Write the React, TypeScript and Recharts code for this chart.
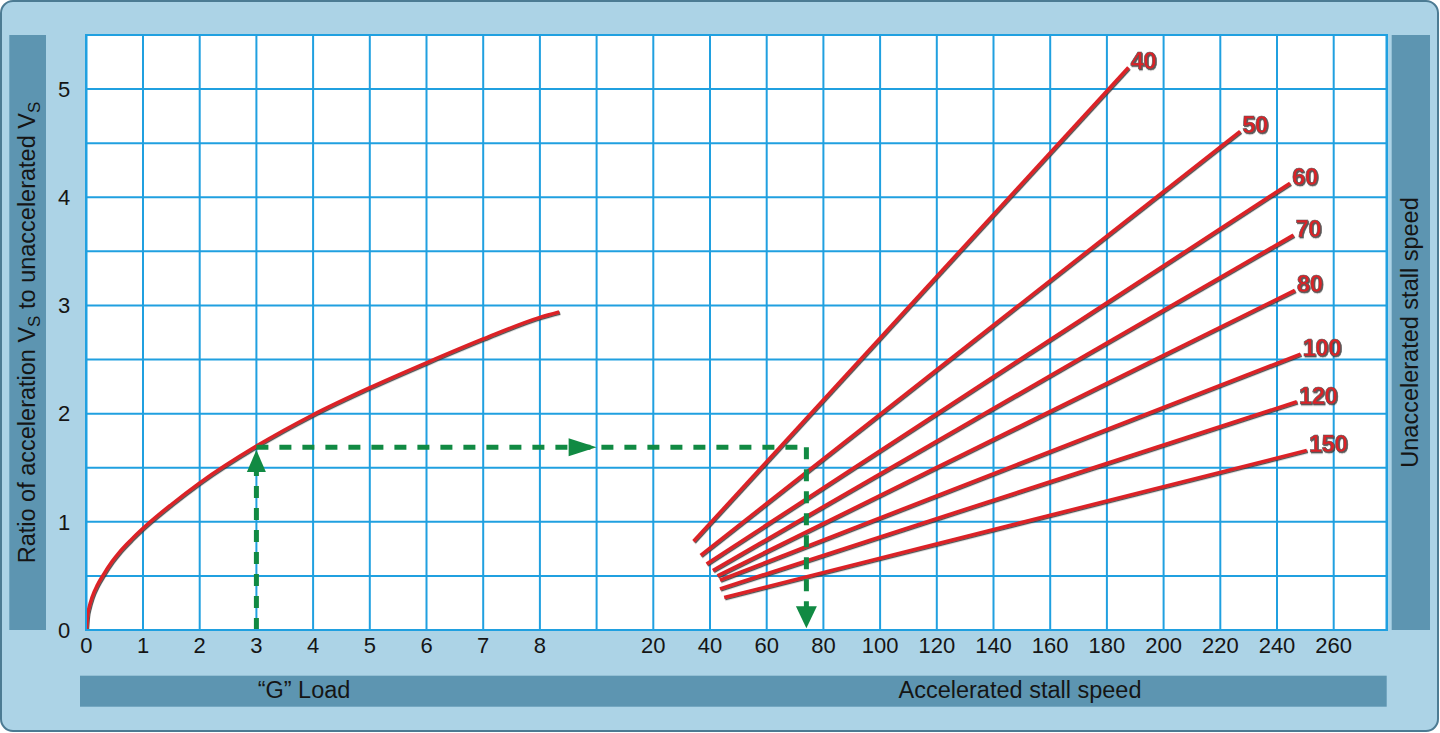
import React from 'react';
import { LineChart, Line, XAxis, YAxis, CartesianGrid, ReferenceDot } from 'recharts';

// ---------------- data ----------------
// "G" load curve
const gLoadValues = [0, 0.02, 0.05, 0.1, 0.2, 0.3, 0.45, 0.6, 0.8, 1, 1.5, 2, 3, 4, 5, 6, 7, 8, 8.34];
const gRatioValues = [0, 0.13, 0.21, 0.3, 0.42, 0.51, 0.63, 0.73, 0.84, 0.94, 1.16, 1.36, 1.7, 1.99, 2.24, 2.47, 2.69, 2.89, 2.94];

// Unaccelerated stall speed lines (accelerated stall speed vs ratio)
const stallSpeeds = [40, 50, 60, 70, 80, 100, 120, 150];
const lineStartSpeed = [34.2, 36.7, 38.8, 41.0, 42.6, 43.5, 43.5, 45.0];
const lineStartRatio = [0.82, 0.69, 0.61, 0.55, 0.5, 0.46, 0.38, 0.3];
const lineEndSpeed = [187.6, 227.0, 244.6, 245.8, 246.3, 248.3, 247.0, 250.5];
const lineEndRatio = [5.2, 4.61, 4.13, 3.65, 3.14, 2.55, 2.11, 1.66];

// Ticks
const gTicks = [0, 1, 2, 3, 4, 5, 6, 7, 8, 9];
const speedTicks = [20, 40, 60, 80, 100, 120, 140, 160, 180, 200, 220, 240, 260];
const ratioTicks = [0, 0.5, 1, 1.5, 2, 2.5, 3, 3.5, 4, 4.5, 5, 5.5];

// Worked example (green dashed arrows)
const exampleLoad = 3;
const exampleRatio = 1.69;
const exampleSpeed = 74;
const upArrowBase = 1.46;
const upArrowTip = 1.665;
const rightArrowTipLoad = 9;
const downArrowBase = 0.21;
const downArrowTip = 0.016;

// ---------------- layout / style ----------------
const W = 1440;
const H = 733;
const PLOT_LEFT = 86.3;
const PLOT_TOP = 35;
const PLOT_RIGHT = 1386.7;
const PLOT_BOTTOM = 630;
const COL_PX = 56.7;
const AXIS_H = 0.01;
const G_MAX = (PLOT_RIGHT - PLOT_LEFT) / COL_PX;
// both scales share one grid: column 10 = 20 kt, 20 kt per column
const speedAtCol = (c: number) => 20 + (c - 10) * 20;
const colAtSpeed = (s: number) => 10 + (s - 20) / 20;
const S_DOMAIN = [speedAtCol(0), speedAtCol(G_MAX)];

const RED = '#dc2128';
const GREEN = '#118a43';
const GRID = '#20a0e0';
const BG = '#acd3e6';
const BAR = '#5d95b1';
const FONT = '"Liberation Sans", Arial, Helvetica, sans-serif';
const TEXT = '#151515';

const curveData = gLoadValues.map((g, i) => ({ g, r: gRatioValues[i] }));
const speedLines = stallSpeeds.map((v, i) => ({
  label: String(v),
  data: [
    { s: lineStartSpeed[i], r: lineStartRatio[i] },
    { s: lineEndSpeed[i], r: lineEndRatio[i] },
  ],
}));
const upData = [
  { g: exampleLoad, r: 0 },
  { g: exampleLoad, r: upArrowBase },
];
const acrossData = [
  { g: exampleLoad, r: exampleRatio },
  { g: colAtSpeed(exampleSpeed), r: exampleRatio },
];
const downData = [
  { s: exampleSpeed, r: exampleRatio },
  { s: exampleSpeed, r: downArrowBase },
];

const tickStyle = { fill: TEXT, fontSize: 22, fontFamily: FONT };

const endLabel = (label: string) => (props: any) => {
  const { cx, cy, index } = props;
  if (index !== 1 || cx == null) return <g key={`e${index}`} />;
  return (
    <text
      key={`e${index}`}
      x={cx + 2}
      y={cy + 2}
      fill={RED}
      fontSize={24}
      fontWeight="bold"
      fontFamily={FONT}
      letterSpacing={-0.5}
      stroke="#5a5a5a"
      strokeWidth={0.6}
      filter="url(#redShadow)"
    >
      {label}
    </text>
  );
};

const UpHead = (p: any) => (
  <polygon points={`${p.cx},${p.cy} ${p.cx - 9.5},${p.cy + 22} ${p.cx + 9.5},${p.cy + 22}`} fill={GREEN} />
);
const RightHead = (p: any) => (
  <polygon points={`${p.cx},${p.cy} ${p.cx - 28},${p.cy - 9} ${p.cx - 28},${p.cy + 9}`} fill={GREEN} />
);
const DownHead = (p: any) => (
  <polygon points={`${p.cx},${p.cy} ${p.cx - 10.5},${p.cy - 22} ${p.cx + 10.5},${p.cy - 22}`} fill={GREEN} />
);

export default function App() {
  return (
    <div style={{ position: 'absolute', left: 0, top: 0, width: W, height: H, overflow: 'hidden' }}>
      <style>{`.redline .recharts-line-curve { filter: url(#redShadow); }`}</style>
      <svg width={0} height={0} style={{ position: 'absolute' }}>
        <defs>
          <filter id="redShadow" x="-5%" y="-5%" width="110%" height="110%">
            <feDropShadow dx="1" dy="1.2" stdDeviation="0.4" floodColor="#3a3a3a" floodOpacity="0.85" />
          </filter>
        </defs>
      </svg>

      {/* frame and label bars */}
      <svg width={W} height={H} style={{ position: 'absolute', left: 0, top: 0 }}>
        <rect x={1} y={1} width={W - 3} height={H - 3} rx={12} ry={12} fill={BG} stroke="#4c7b93" strokeWidth={2} />
        <rect x={9.3} y={PLOT_TOP} width={36.7} height={PLOT_BOTTOM - PLOT_TOP} fill={BAR} />
        <rect x={1391.7} y={PLOT_TOP} width={38.3} height={PLOT_BOTTOM - PLOT_TOP} fill={BAR} />
        <rect x={80} y={675.7} width={1306.7} height={31} fill={BAR} />
        <text
          transform={`translate(35, ${(PLOT_TOP + PLOT_BOTTOM) / 2}) rotate(-90)`}
          textAnchor="middle"
          fontSize={23.5}
          fontFamily={FONT}
          fill={TEXT}
        >
          Ratio of acceleration V
          <tspan fontSize={17} dy={5}>S</tspan>
          <tspan dy={-5}> to unaccelerated V</tspan>
          <tspan fontSize={17} dy={5}>S</tspan>
        </text>
        <text
          transform={`translate(1418, ${(PLOT_TOP + PLOT_BOTTOM) / 2}) rotate(-90)`}
          textAnchor="middle"
          fontSize={23.5}
          fontFamily={FONT}
          fill={TEXT}
        >
          Unaccelerated stall speed
        </text>
        <text x={304} y={698} textAnchor="middle" fontSize={23.5} fontFamily={FONT} fill={TEXT}>
          “G” Load
        </text>
        <text x={1020} y={698} textAnchor="middle" fontSize={23.5} fontFamily={FONT} fill={TEXT}>
          Accelerated stall speed
        </text>
      </svg>

      <div style={{ position: 'absolute', left: 0, top: 0 }}>
        <LineChart
          width={W}
          height={H}
          margin={{
            top: PLOT_TOP,
            right: W - PLOT_RIGHT,
            bottom: H - PLOT_BOTTOM - 2 * AXIS_H,
            left: PLOT_LEFT - 60,
          }}
        >
          <CartesianGrid xAxisId="g" stroke={GRID} strokeWidth={2} fill="#ffffff" fillOpacity={1} />
          <CartesianGrid xAxisId="s" stroke={GRID} strokeWidth={2} horizontal={false} />
          <XAxis
            xAxisId="g"
            dataKey="g"
            type="number"
            domain={[0, G_MAX]}
            allowDataOverflow
            ticks={gTicks}
            interval={0}
            tickFormatter={(v: number) => (v === 9 ? '' : String(v))}
            height={AXIS_H}
            axisLine={false}
            tickLine={false}
            tickSize={0}
            tickMargin={7}
            fontSize={22}
            tick={tickStyle}
          />
          <XAxis
            xAxisId="s"
            dataKey="s"
            type="number"
            domain={S_DOMAIN}
            allowDataOverflow
            ticks={speedTicks}
            interval={0}
            height={AXIS_H}
            axisLine={false}
            tickLine={false}
            tickSize={0}
            tickMargin={7}
            fontSize={22}
            tick={tickStyle}
          />
          <YAxis
            type="number"
            domain={[0, 5.5]}
            allowDataOverflow
            ticks={ratioTicks}
            interval={0}
            tickFormatter={(v: number) => (Number.isInteger(v) && v <= 5 ? String(v) : '')}
            width={60}
            axisLine={false}
            tickLine={false}
            tickSize={0}
            tickMargin={16}
            fontSize={22}
            tick={tickStyle}
          />

          <Line
            xAxisId="g"
            data={curveData}
            dataKey="r"
            type="monotone"
            stroke={RED}
            strokeWidth={3.5}
            dot={false}
            activeDot={false}
            isAnimationActive={false}
            className="redline"
          />
          {speedLines.map((sl) => (
            <Line
              key={sl.label}
              xAxisId="s"
              data={sl.data}
              dataKey="r"
              type="linear"
              stroke={RED}
              strokeWidth={3.5}
              dot={endLabel(sl.label)}
              activeDot={false}
              isAnimationActive={false}
              className="redline"
            />
          ))}

          <Line
            xAxisId="g"
            data={upData}
            dataKey="r"
            type="linear"
            stroke={GREEN}
            strokeWidth={5}
            strokeDasharray="12 10"
            dot={false}
            activeDot={false}
            isAnimationActive={false}
          />
          <Line
            xAxisId="g"
            data={acrossData}
            dataKey="r"
            type="linear"
            stroke={GREEN}
            strokeWidth={5}
            strokeDasharray="12 11"
            dot={false}
            activeDot={false}
            isAnimationActive={false}
          />
          <Line
            xAxisId="s"
            data={downData}
            dataKey="r"
            type="linear"
            stroke={GREEN}
            strokeWidth={5}
            strokeDasharray="12 10"
            dot={false}
            activeDot={false}
            isAnimationActive={false}
          />
          <ReferenceDot xAxisId="g" x={exampleLoad} y={upArrowTip} r={0} shape={UpHead} />
          <ReferenceDot xAxisId="g" x={rightArrowTipLoad} y={exampleRatio} r={0} shape={RightHead} />
          <ReferenceDot xAxisId="s" x={exampleSpeed} y={downArrowTip} r={0} shape={DownHead} />
        </LineChart>
      </div>

      {/* plot border */}
      <div
        style={{
          position: 'absolute',
          left: PLOT_LEFT - 1,
          top: PLOT_TOP - 1,
          width: PLOT_RIGHT - PLOT_LEFT + 2,
          height: PLOT_BOTTOM - PLOT_TOP + 2,
          border: `2px solid ${GRID}`,
          boxSizing: 'border-box',
          pointerEvents: 'none',
        }}
      />
    </div>
  );
}
